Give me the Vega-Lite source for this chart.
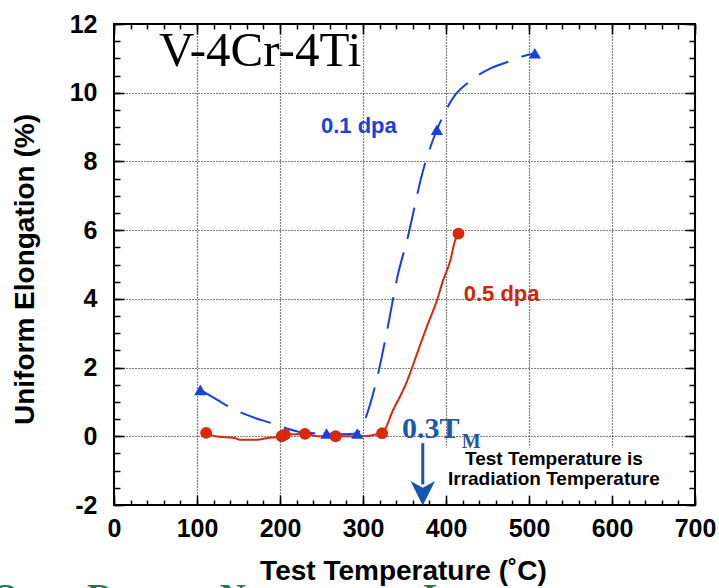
{
  "$schema": "https://vega.github.io/schema/vega-lite/v6.json",
  "width": 581,
  "height": 481,
  "autosize": {"type": "none"},
  "padding": {"left": 114, "top": 24, "right": 24, "bottom": 83},
  "background": "white",
  "config": {
    "view": {"stroke": "black", "strokeWidth": 2},
    "font": "Liberation Sans"
  },
  "datasets": {
    "curve01": [
      {"t": 104, "e": 1.35}, {"t": 125, "e": 1.05}, {"t": 143, "e": 0.8}, {"t": 168, "e": 0.55},
      {"t": 190, "e": 0.38}, {"t": 208, "e": 0.23}, {"t": 225, "e": 0.12}, {"t": 240, "e": 0.09},
      {"t": 256, "e": 0.08}, {"t": 275, "e": 0.06}, {"t": 293, "e": 0.08}, {"t": 296, "e": 0.17},
      {"t": 317, "e": 1.7}, {"t": 330, "e": 3.2}, {"t": 342, "e": 4.7}, {"t": 353, "e": 5.7},
      {"t": 372, "e": 7.7}, {"t": 389, "e": 8.92}, {"t": 396, "e": 9.3}, {"t": 410, "e": 9.9},
      {"t": 427, "e": 10.3}, {"t": 453, "e": 10.7}, {"t": 475, "e": 10.9}, {"t": 491, "e": 11.05},
      {"t": 507, "e": 11.15}
    ],
    "curve05": [
      {"t": 111, "e": 0.1}, {"t": 122, "e": 0.0}, {"t": 145, "e": -0.05}, {"t": 152, "e": -0.1},
      {"t": 172, "e": -0.1}, {"t": 185, "e": -0.05}, {"t": 202, "e": 0.0}, {"t": 206, "e": 0.05},
      {"t": 230, "e": 0.07}, {"t": 245, "e": 0.0}, {"t": 267, "e": 0.0}, {"t": 295, "e": 0.0},
      {"t": 323, "e": 0.09}, {"t": 336, "e": 0.75}, {"t": 353, "e": 1.6}, {"t": 365, "e": 2.4},
      {"t": 377, "e": 3.2}, {"t": 389, "e": 3.95}, {"t": 396, "e": 4.5}, {"t": 405, "e": 5.1},
      {"t": 411, "e": 5.7}, {"t": 415, "e": 5.9}
    ],
    "pts01": [
      {"t": 104, "e": 1.35}, {"t": 256, "e": 0.08}, {"t": 293, "e": 0.08}, {"t": 389, "e": 8.92}, {"t": 507, "e": 11.15}
    ],
    "pts05": [
      {"t": 111, "e": 0.1}, {"t": 202, "e": 0.0}, {"t": 206, "e": 0.05}, {"t": 230, "e": 0.07},
      {"t": 267, "e": 0.0}, {"t": 323, "e": 0.09}, {"t": 415, "e": 5.9}
    ]
  },
  "resolve": {"axis": {"x": "independent", "y": "independent"}},
  "layer": [
    {
      "data": {"name": "pts01"},
      "mark": {"type": "point", "opacity": 0},
      "encoding": {
        "x": {"field": "t", "type": "quantitative", "scale": {"domain": [0, 700], "nice": false, "zero": false},
          "axis": {"orient": "bottom", "values": [0, 100, 200, 300, 400, 500, 600, 700], "grid": true, "gridColor": "black", "gridDash": [1, 2], "gridWidth": 1.2, "gridOpacity": 1,
            "ticks": false, "domain": false, "labelFont": "Liberation Sans", "labelFontSize": 25, "labelFontWeight": "bold", "labelColor": "black", "labelPadding": 11, "labelFlush": false, "labelOverlap": false,
            "title": "Test  Temperature  (˚C)", "titleFont": "Liberation Sans", "titleFontSize": 28, "titleFontWeight": "bold", "titleColor": "black", "titleX": 289, "titleY": 74, "titleBaseline": "alphabetic", "titleAlign": "center", "titleAnchor": null}},
        "y": {"field": "e", "type": "quantitative", "scale": {"domain": [-2, 12], "nice": false, "zero": false},
          "axis": {"orient": "left", "values": [-2, 0, 2, 4, 6, 8, 10, 12], "format": "d", "labelExpr": "replace(datum.label, '−', '-')", "grid": true, "gridColor": "black", "gridDash": [1, 2], "gridWidth": 1.2, "gridOpacity": 1,
            "ticks": false, "domain": false, "labelFont": "Liberation Sans", "labelFontSize": 25, "labelFontWeight": "bold", "labelColor": "black", "labelPadding": 17, "labelFlush": false, "labelOverlap": false,
            "title": "Uniform  Elongation  (%)", "titleFont": "Liberation Sans", "titleFontSize": 28, "titleFontWeight": "bold", "titleColor": "black", "titleX": -89, "titleY": 245, "titleAngle": 270, "titleBaseline": "middle", "titleAlign": "center", "titleAnchor": null}}
      }
    },
    {
      "data": {"name": "pts01"},
      "mark": {"type": "point", "opacity": 0},
      "encoding": {
        "x": {"field": "t", "type": "quantitative", "axis": {"orient": "top", "offset": -481, "values": [0,20,40,60,80,100,120,140,160,180,200,220,240,260,280,300,320,340,360,380,400,420,440,460,480,500,520,540,560,580,600,620,640,660,680,700], "tickSize": 5, "tickWidth": 1.5, "tickColor": "black", "labels": false, "domain": false, "title": null}},
        "y": {"field": "e", "type": "quantitative", "axis": {"orient": "left", "values": [-2,-1.5,-1,-0.5,0,0.5,1,1.5,2,2.5,3,3.5,4,4.5,5,5.5,6,6.5,7,7.5,8,8.5,9,9.5,10,10.5,11,11.5,12], "tickSize": -6, "tickWidth": 1.5, "tickColor": "black", "labels": false, "domain": false, "title": null}}
      }
    },
    {
      "data": {"name": "pts01"},
      "mark": {"type": "point", "opacity": 0},
      "encoding": {
        "x": {"field": "t", "type": "quantitative", "axis": {"orient": "top", "offset": -481, "values": [0, 100, 200, 300, 400, 500, 600, 700], "tickSize": 10, "tickWidth": 1.5, "tickColor": "black", "labels": false, "domain": false, "title": null}},
        "y": {"field": "e", "type": "quantitative", "axis": {"orient": "left", "values": [-2, 0, 2, 4, 6, 8, 10, 12], "tickSize": -10, "tickWidth": 1.5, "tickColor": "black", "labels": false, "domain": false, "title": null}}
      }
    },
    {
      "data": {"name": "pts01"},
      "mark": {"type": "point", "opacity": 0},
      "encoding": {
        "x": {"field": "t", "type": "quantitative", "axis": {"orient": "top", "values": [0,20,40,60,80,100,120,140,160,180,200,220,240,260,280,300,320,340,360,380,400,420,440,460,480,500,520,540,560,580,600,620,640,660,680,700], "tickSize": -5, "tickWidth": 1.5, "tickColor": "black", "labels": false, "domain": false, "title": null}},
        "y": {"field": "e", "type": "quantitative", "axis": {"orient": "right", "values": [-2,-1.5,-1,-0.5,0,0.5,1,1.5,2,2.5,3,3.5,4,4.5,5,5.5,6,6.5,7,7.5,8,8.5,9,9.5,10,10.5,11,11.5,12], "tickSize": -6, "tickWidth": 1.5, "tickColor": "black", "labels": false, "domain": false, "title": null}}
      }
    },
    {
      "data": {"name": "pts01"},
      "mark": {"type": "point", "opacity": 0},
      "encoding": {
        "x": {"field": "t", "type": "quantitative", "axis": {"orient": "top", "values": [0, 100, 200, 300, 400, 500, 600, 700], "tickSize": -10, "tickWidth": 1.5, "tickColor": "black", "labels": false, "domain": false, "title": null}},
        "y": {"field": "e", "type": "quantitative", "axis": {"orient": "right", "values": [-2, 0, 2, 4, 6, 8, 10, 12], "tickSize": -10, "tickWidth": 1.5, "tickColor": "black", "labels": false, "domain": false, "title": null}}
      }
    },
    {
      "data": {"values": [{"x1": 380, "x2": 690, "y1": -1.72, "y2": -0.33}]},
      "mark": {"type": "rect", "fill": "white"},
      "encoding": {
        "x": {"field": "x1", "type": "quantitative", "axis": null},
        "x2": {"field": "x2"},
        "y": {"field": "y1", "type": "quantitative", "axis": null},
        "y2": {"field": "y2"}
      }
    },
    {
      "data": {"name": "curve01"},
      "mark": {"type": "line", "color": "#1a3fe0", "strokeWidth": 2, "strokeDash": [32, 14], "interpolate": "monotone"},
      "encoding": {
        "x": {"field": "t", "type": "quantitative", "axis": null},
        "y": {"field": "e", "type": "quantitative", "axis": null}
      }
    },
    {
      "data": {"name": "curve05"},
      "mark": {"type": "line", "color": "#d8290c", "strokeWidth": 2, "interpolate": "monotone"},
      "encoding": {
        "x": {"field": "t", "type": "quantitative", "axis": null},
        "y": {"field": "e", "type": "quantitative", "axis": null}
      }
    },
    {
      "data": {"name": "pts01"},
      "mark": {"type": "point", "shape": "triangle-up", "filled": true, "color": "#1a3fe0", "size": 150, "opacity": 1},
      "encoding": {
        "x": {"field": "t", "type": "quantitative", "axis": null},
        "y": {"field": "e", "type": "quantitative", "axis": null}
      }
    },
    {
      "data": {"name": "pts05"},
      "mark": {"type": "point", "shape": "circle", "filled": true, "color": "#d8290c", "size": 140, "opacity": 1},
      "encoding": {
        "x": {"field": "t", "type": "quantitative", "axis": null},
        "y": {"field": "e", "type": "quantitative", "axis": null}
      }
    },
    {
      "data": {"values": [{"t": 372, "e1": -0.2, "e2": -1.4}]},
      "mark": {"type": "rule", "color": "#1654b0", "strokeWidth": 3},
      "encoding": {
        "x": {"field": "t", "type": "quantitative", "axis": null},
        "y": {"field": "e1", "type": "quantitative", "axis": null},
        "y2": {"field": "e2"}
      }
    },
    {
      "data": {"values": [{"t": 372, "e": -1.66}]},
      "mark": {"type": "point", "shape": "M0,1 L-1,-1 L0,-0.45 L1,-1 Z", "filled": true, "color": "#1654b0", "size": 600, "opacity": 1},
      "encoding": {
        "x": {"field": "t", "type": "quantitative", "axis": null},
        "y": {"field": "e", "type": "quantitative", "axis": null}
      }
    },
    {
      "data": {"values": [{"t": 176, "e": 10.78, "label": "V-4Cr-4Ti"}]},
      "mark": {"type": "text", "font": "Liberation Serif", "fontSize": 49, "color": "black", "align": "center", "baseline": "alphabetic"},
      "encoding": {
        "x": {"field": "t", "type": "quantitative", "axis": null},
        "y": {"field": "e", "type": "quantitative", "axis": null},
        "text": {"field": "label"}
      }
    },
    {
      "data": {"values": [{"t": 295, "e": 8.84, "label": "0.1 dpa"}]},
      "mark": {"type": "text", "font": "Liberation Sans", "fontSize": 22, "fontWeight": "bold", "color": "#1a3fe0", "align": "center", "baseline": "alphabetic"},
      "encoding": {
        "x": {"field": "t", "type": "quantitative", "axis": null},
        "y": {"field": "e", "type": "quantitative", "axis": null},
        "text": {"field": "label"}
      }
    },
    {
      "data": {"values": [{"t": 467, "e": 3.95, "label": "0.5 dpa"}]},
      "mark": {"type": "text", "font": "Liberation Sans", "fontSize": 22, "fontWeight": "bold", "color": "#d0250a", "align": "center", "baseline": "alphabetic"},
      "encoding": {
        "x": {"field": "t", "type": "quantitative", "axis": null},
        "y": {"field": "e", "type": "quantitative", "axis": null},
        "text": {"field": "label"}
      }
    },
    {
      "data": {"values": [{"t": 347, "e": -0.06, "label": "0.3T"}]},
      "mark": {"type": "text", "font": "Liberation Serif", "fontSize": 30, "fontWeight": "bold", "color": "#1d57ab", "align": "left", "baseline": "alphabetic"},
      "encoding": {
        "x": {"field": "t", "type": "quantitative", "axis": null},
        "y": {"field": "e", "type": "quantitative", "axis": null},
        "text": {"field": "label"}
      }
    },
    {
      "data": {"values": [{"t": 419, "e": -0.33, "label": "M"}]},
      "mark": {"type": "text", "font": "Liberation Serif", "fontSize": 20, "fontWeight": "bold", "color": "#1d57ab", "align": "left", "baseline": "alphabetic"},
      "encoding": {
        "x": {"field": "t", "type": "quantitative", "axis": null},
        "y": {"field": "e", "type": "quantitative", "axis": null},
        "text": {"field": "label"}
      }
    },
    {
      "data": {"values": [{"t": 530, "e": -0.83, "label": "Test Temperature is"}, {"t": 530, "e": -1.41, "label": "Irradiation Temperature"}]},
      "mark": {"type": "text", "font": "Liberation Sans", "fontSize": 19, "fontWeight": "bold", "color": "black", "align": "center", "baseline": "alphabetic"},
      "encoding": {
        "x": {"field": "t", "type": "quantitative", "axis": null},
        "y": {"field": "e", "type": "quantitative", "axis": null},
        "text": {"field": "label"}
      }
    },
    {
      "data": {"values": [{"t": -131, "e": -5.03, "label": "O"}, {"t": -17, "e": -5.03, "label": "R"}, {"t": 143, "e": -5.03, "label": "N"}, {"t": 387, "e": -5.03, "label": "L"}]},
      "mark": {"type": "text", "font": "Liberation Serif", "fontSize": 36, "fontWeight": "bold", "color": "#1d7a4f", "align": "center", "baseline": "alphabetic"},
      "encoding": {
        "x": {"field": "t", "type": "quantitative", "axis": null},
        "y": {"field": "e", "type": "quantitative", "axis": null},
        "text": {"field": "label"}
      }
    }
  ]
}
